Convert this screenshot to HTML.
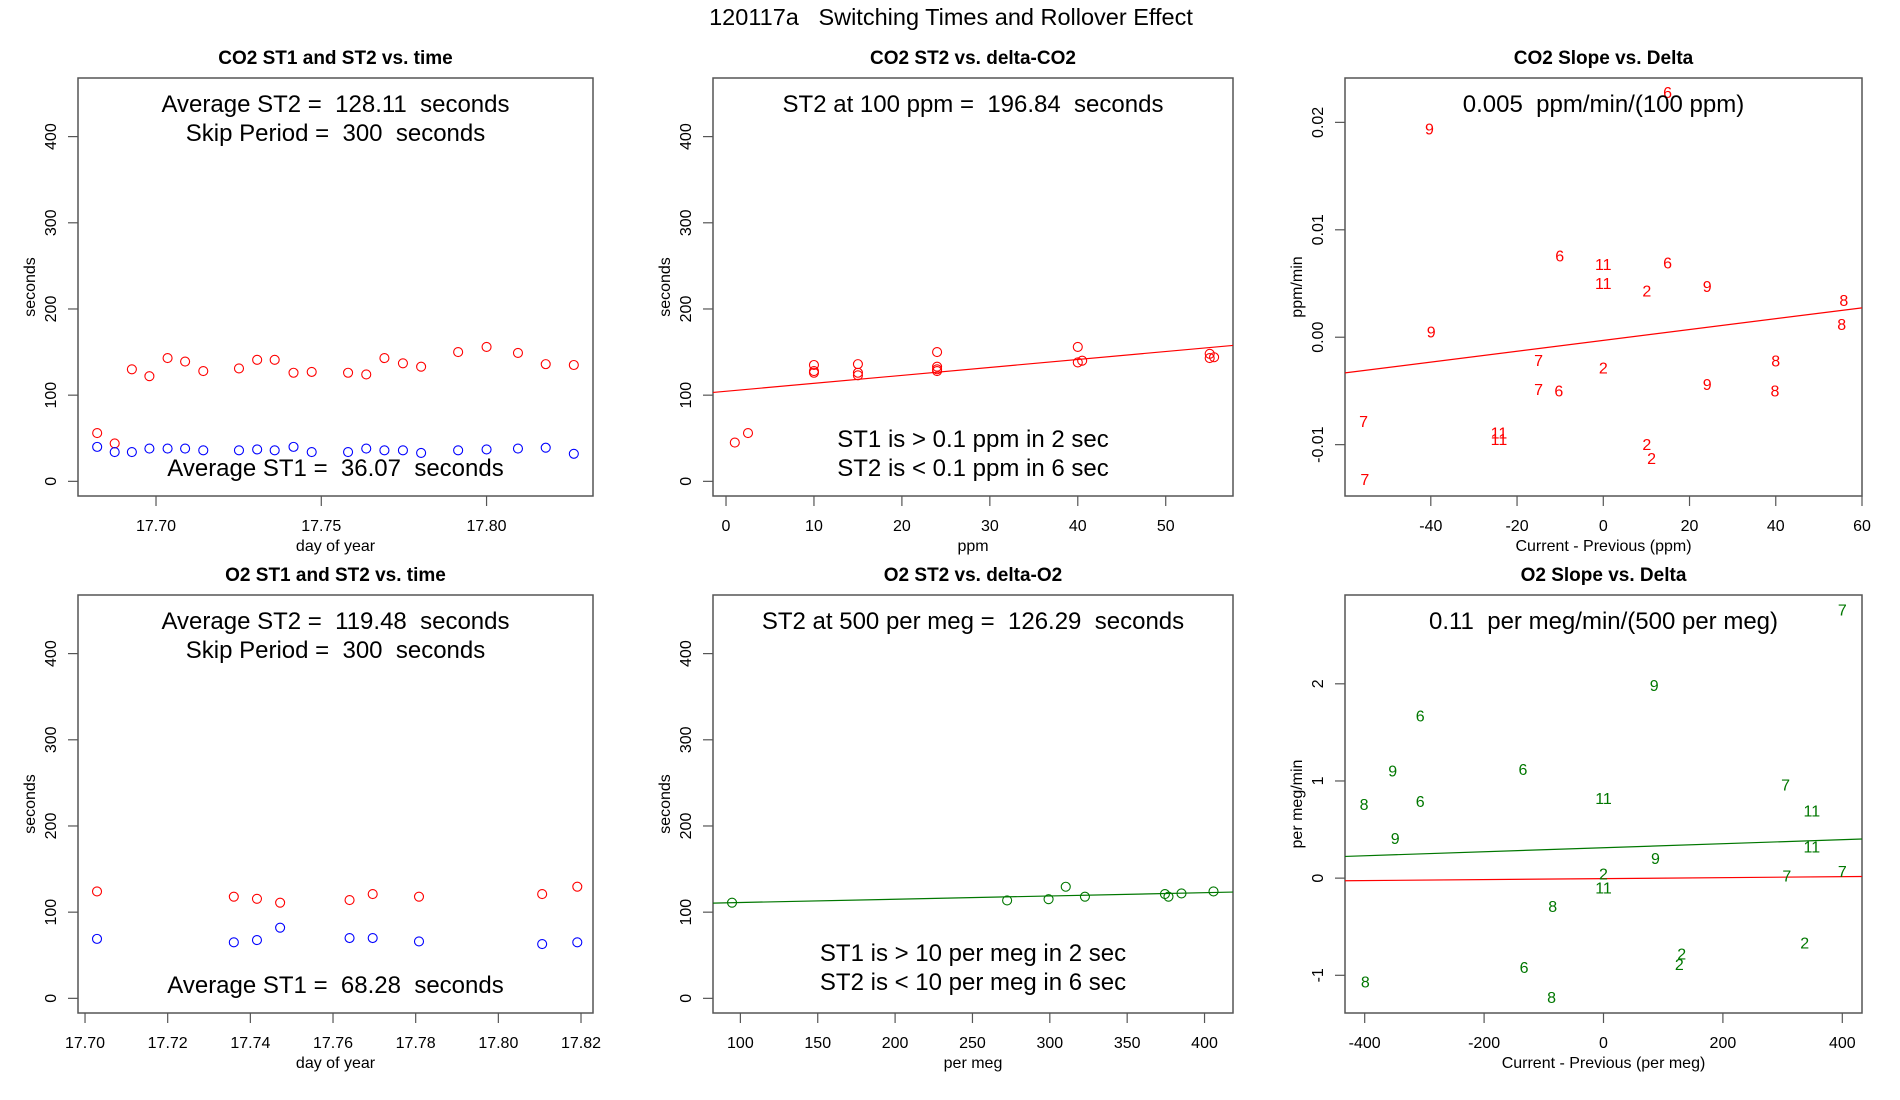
<!DOCTYPE html>
<html><head><meta charset="utf-8"><title>120117a Switching Times and Rollover Effect</title>
<style>
html,body{margin:0;padding:0;background:#fff;}
svg{display:block;font-family:"Liberation Sans",Arial,sans-serif;}
text{white-space:pre;}
</style></head>
<body>
<svg id="chart" width="1900" height="1100" viewBox="0 0 1900 1100" xmlns="http://www.w3.org/2000/svg">
<text x="951" y="25" font-size="23.5" text-anchor="middle" xml:space="preserve">120117a   Switching Times and Rollover Effect</text>
</svg>
<script>
// ---------- DATA ----------
// Panel 1: CO2 ST1 and ST2 vs time
const co2Time = [17.6822,17.6875,17.6927,17.6980,17.7035,17.7088,17.7143,17.7251,17.7306,17.7359,17.7416,17.7471,17.7581,17.7636,17.7691,17.7747,17.7802,17.7914,17.8000,17.8095,17.8179,17.8264];
const co2ST2 = [56,44,130,122,143,139,128,131,141,141,126,127,126,124,143,137,133,150,156,149,136,135];
const co2ST1 = [40,34,34,38,38,38,36,36,37,36,40,34,34,38,36,36,33,36,37,38,39,32];
// Panel 2: CO2 ST2 vs delta-CO2
const co2Delta = [1,2.5,10,10,10,15,15,15,24,24,24,24,40,40,40.5,55,55,55.5];
const co2DeltaST2 = [45,56,135,128,126,136,126,123,150,133,130,128,156,138,140,148,143,144];
const co2Fit = [104.5, 0.923]; // intercept, slope
// Panel 3: CO2 slope vs delta
const co2SlopeX = [14.9,-40.3,-10.1,0,14.9,0,10.1,24.1,55.8,55.3,-39.9,-15,0,40,-15,-10.3,24.1,39.8,-55.6,-24.2,-24.2,10.1,11.2,-55.3];
const co2SlopeY = [0.0227,0.0193,0.00745,0.00668,0.00683,0.0049,0.00422,0.00463,0.00332,0.00109,0.0004,-0.00227,-0.00298,-0.0023,-0.00497,-0.00512,-0.0045,-0.00512,-0.00792,-0.009,-0.00963,-0.0101,-0.0114,-0.01335];
const co2SlopeLabel = ["6","9","6","11","6","11","2","9","8","8","9","7","2","8","7","6","9","8","7","11","11","2","2","7"];
const co2SlopeFit = [-0.000295, 5.05e-5];
// Panel 4: O2 ST1 and ST2 vs time
const o2Time = [17.7029,17.7360,17.7416,17.7472,17.7640,17.7696,17.7808,17.8106,17.8191];
const o2ST2 = [124,118,115.5,111,114,121,118,121,129.6];
const o2ST1 = [69,65,67.6,82,70,70,66,63,65];
// Panel 5: O2 ST2 vs delta-O2
const o2Delta = [94.6,272.4,299.2,310.3,322.7,374.4,376.7,385.1,405.8];
const o2DeltaST2 = [111,113.6,115,129.5,118,121,118,121.7,124];
const o2Fit = [107.4, 0.038];
// Panel 6: O2 slope vs delta
const o2SlopeX = [400,85,-307,-353,-135,305,0,-401,-307,349,-349,349,87,0,307,400,0,-85,337,131,127,-133,-399,-87];
const o2SlopeY = [2.75,1.97,1.66,1.09,1.11,0.95,0.81,0.75,0.78,0.68,0.40,0.31,0.19,0.03,0.01,0.06,-0.11,-0.30,-0.68,-0.79,-0.90,-0.93,-1.08,-1.24];
const o2SlopeLabel = ["7","9","6","9","6","7","11","8","6","11","9","11","9","2","7","7","11","8","2","2","2","6","8","8"];
const o2SlopeFitGreen = [0.313, 2.07e-4];
const o2SlopeFitRed = [-0.005, 5.1e-5];
// tick labels
const ticksP1x = [17.70,17.75,17.80];
const ticksSecY = [0,100,200,300,400];
const ticksP2x = [0,10,20,30,40,50];
const ticksP3x = [-40,-20,0,20,40,60];
const ticksP3y = [-0.01,0.00,0.01,0.02];
const ticksP4x = [17.70,17.72,17.74,17.76,17.78,17.80,17.82];
const ticksP5x = [100,150,200,250,300,350,400];
const ticksP6x = [-400,-200,0,200,400];
const ticksP6y = [-1,0,1,2];

// ---------- DRAWING ----------
const NS = "http://www.w3.org/2000/svg";
const svg = document.getElementById("chart");
function mk(tag, attrs, parent){
  const e = document.createElementNS(NS, tag);
  for (const k in attrs) e.setAttribute(k, attrs[k]);
  (parent||svg).appendChild(e);
  return e;
}
const COLS = [[78,593],[713,1233],[1345,1862]];
const ROWS = [[78,496],[595,1013]];

function panel(id, col, row, xd, yd, o){
  const [x0,x1] = COLS[col], [y0,y1] = ROWS[row];
  const g = mk("g", {});
  
  
  const sx = v => x0 + (v - xd[0]) / (xd[1] - xd[0]) * (x1 - x0);
  const sy = v => y1 - (v - yd[0]) / (yd[1] - yd[0]) * (y1 - y0);
  const cx = (x0 + x1) / 2;
  const t = mk("text", {x:cx, y:y0-14, "font-size":19, "font-weight":"bold", "text-anchor":"middle"}, g);
  
  
  t.textContent = o.title;
  const clip = mk("clipPath", {id:"clip-"+id}, g);
  mk("rect", {x:x0, y:y0, width:x1-x0, height:y1-y0}, clip);
  const box = mk("rect", {x:x0, y:y0, width:x1-x0, height:y1-y0, fill:"none", stroke:"#555", "stroke-width":1.5}, g);
  
  
  // x axis
  const xa = mk("g", {}, g);
  
  
  o.xt.forEach(v => {
    const px = sx(v);
    mk("line", {x1:px, x2:px, y1:y1, y2:y1+10, stroke:"#555", "stroke-width":1.2}, xa);
    const tl = mk("text", {x:px, y:y1+35, "font-size":16, "text-anchor":"middle"}, xa);
    
    
    tl.textContent = o.xfmt(v);
  });
  const xl = mk("text", {x:cx, y:y1+55, "font-size":16, "text-anchor":"middle"}, g);
  
  
  xl.textContent = o.xlab;
  // y axis
  const ya = mk("g", {}, g);
  
  
  o.yt.forEach(v => {
    const py = sy(v);
    mk("line", {x1:x0-10, x2:x0, y1:py, y2:py, stroke:"#555", "stroke-width":1.2}, ya);
    const tl = mk("text", {x:x0-22, y:py, "font-size":16, "text-anchor":"middle", transform:`rotate(-90 ${x0-22} ${py})`}, ya);
    
    
    tl.textContent = o.yfmt(v);
  });
  const ymid = (y0 + y1) / 2;
  const yl = mk("text", {x:x0-43, y:ymid, "font-size":16, "text-anchor":"middle", transform:`rotate(-90 ${x0-43} ${ymid})`}, g);
  
  
  yl.textContent = o.ylab;
  const plot = mk("g", {"clip-path":`url(#clip-${id})`}, g);
  return {g, plot, sx, sy, x0, x1, y0, y1, cx};
}
function circles(p, xs, ys, color, name){
  xs.forEach((v,i) => {
    const c = mk("circle", {cx:p.sx(v), cy:p.sy(ys[i]), r:4.5, fill:"none", stroke:color, "stroke-width":1.1}, p.plot);
    
    
  });
}
function labels(p, xs, ys, ls, color, name){
  xs.forEach((v,i) => {
    const t = mk("text", {x:p.sx(v), y:p.sy(ys[i]), "font-size":16, fill:color, "text-anchor":"middle", "dominant-baseline":"central"}, p.plot);
    
    
    t.textContent = ls[i];
  });
}
function fitLine(p, fit, xd, color, name){
  const l = mk("line", {x1:p.sx(xd[0]), y1:p.sy(fit[0]+fit[1]*xd[0]), x2:p.sx(xd[1]), y2:p.sy(fit[0]+fit[1]*xd[1]), stroke:color, "stroke-width":1.2}, p.plot);
  
  
}
function note(p, y, s, name){
  const t = mk("text", {x:p.cx, y:y, "font-size":24, "text-anchor":"middle"}, p.g);
  
  
  t.setAttribute('xml:space', 'preserve');
  t.textContent = s;
}
const f2 = v => v.toFixed(2), f0 = v => String(v);
const RED = "#ff0000", BLUE = "#0000ff", GREEN = "#007700";
const secD = [-17, 468];

// Panel 1
const d1x = [17.6764, 17.8322];
const p1 = panel("co2-time", 0, 0, d1x, secD, {title:"CO2 ST1 and ST2 vs. time", xt:ticksP1x, yt:ticksSecY, xfmt:f2, yfmt:f0, xlab:"day of year", ylab:"seconds"});
circles(p1, co2Time, co2ST2, RED, "co2-st2-point");
circles(p1, co2Time, co2ST1, BLUE, "co2-st1-point");
note(p1, 112, "Average ST2 =  128.11  seconds", "co2-avg-st2-note");
note(p1, 141, "Skip Period =  300  seconds", "co2-skip-period-note");
note(p1, 476, "Average ST1 =  36.07  seconds", "co2-avg-st1-note");

// Panel 2
const d2x = [-1.48, 57.65];
const p2 = panel("co2-delta", 1, 0, d2x, secD, {title:"CO2 ST2 vs. delta-CO2", xt:ticksP2x, yt:ticksSecY, xfmt:f0, yfmt:f0, xlab:"ppm", ylab:"seconds"});
fitLine(p2, co2Fit, d2x, RED, "co2-st2-fit-line");
circles(p2, co2Delta, co2DeltaST2, RED, "co2-delta-st2-point");
note(p2, 112, "ST2 at 100 ppm =  196.84  seconds", "co2-st2-at-100-note");
note(p2, 447, "ST1 is > 0.1 ppm in 2 sec", "co2-st1-note");
note(p2, 476, "ST2 is < 0.1 ppm in 6 sec", "co2-st2-note");

// Panel 3
const d3x = [-59.9, 60.0], d3y = [-0.01478, 0.02413];
const p3 = panel("co2-slope", 2, 0, d3x, d3y, {title:"CO2 Slope vs. Delta", xt:ticksP3x, yt:ticksP3y, xfmt:f0, yfmt:f2, xlab:"Current - Previous (ppm)", ylab:"ppm/min"});
fitLine(p3, co2SlopeFit, d3x, RED, "co2-slope-fit-line");
note(p3, 112, "0.005  ppm/min/(100 ppm)", "co2-slope-note");
labels(p3, co2SlopeX, co2SlopeY, co2SlopeLabel, RED, "co2-slope-label");

// Panel 4
const d4x = [17.6983, 17.8229];
const p4 = panel("o2-time", 0, 1, d4x, secD, {title:"O2 ST1 and ST2 vs. time", xt:ticksP4x, yt:ticksSecY, xfmt:f2, yfmt:f0, xlab:"day of year", ylab:"seconds"});
circles(p4, o2Time, o2ST2, RED, "o2-st2-point");
circles(p4, o2Time, o2ST1, BLUE, "o2-st1-point");
note(p4, 629, "Average ST2 =  119.48  seconds", "o2-avg-st2-note");
note(p4, 658, "Skip Period =  300  seconds", "o2-skip-period-note");
note(p4, 993, "Average ST1 =  68.28  seconds", "o2-avg-st1-note");

// Panel 5
const d5x = [82.3, 418.4];
const p5 = panel("o2-delta", 1, 1, d5x, secD, {title:"O2 ST2 vs. delta-O2", xt:ticksP5x, yt:ticksSecY, xfmt:f0, yfmt:f0, xlab:"per meg", ylab:"seconds"});
fitLine(p5, o2Fit, d5x, GREEN, "o2-st2-fit-line");
circles(p5, o2Delta, o2DeltaST2, GREEN, "o2-delta-st2-point");
note(p5, 629, "ST2 at 500 per meg =  126.29  seconds", "o2-st2-at-500-note");
note(p5, 961, "ST1 is > 10 per meg in 2 sec", "o2-st1-note");
note(p5, 990, "ST2 is < 10 per meg in 6 sec", "o2-st2-note");

// Panel 6
const d6x = [-433, 433], d6y = [-1.388, 2.914];
const p6 = panel("o2-slope", 2, 1, d6x, d6y, {title:"O2 Slope vs. Delta", xt:ticksP6x, yt:ticksP6y, xfmt:f0, yfmt:f0, xlab:"Current - Previous (per meg)", ylab:"per meg/min"});
fitLine(p6, o2SlopeFitGreen, d6x, GREEN, "o2-slope-fit-line");
fitLine(p6, o2SlopeFitRed, d6x, RED, "o2-slope-reference-line");
note(p6, 629, "0.11  per meg/min/(500 per meg)", "o2-slope-note");
labels(p6, o2SlopeX, o2SlopeY, o2SlopeLabel, GREEN, "o2-slope-label");
</script>
</body></html>
